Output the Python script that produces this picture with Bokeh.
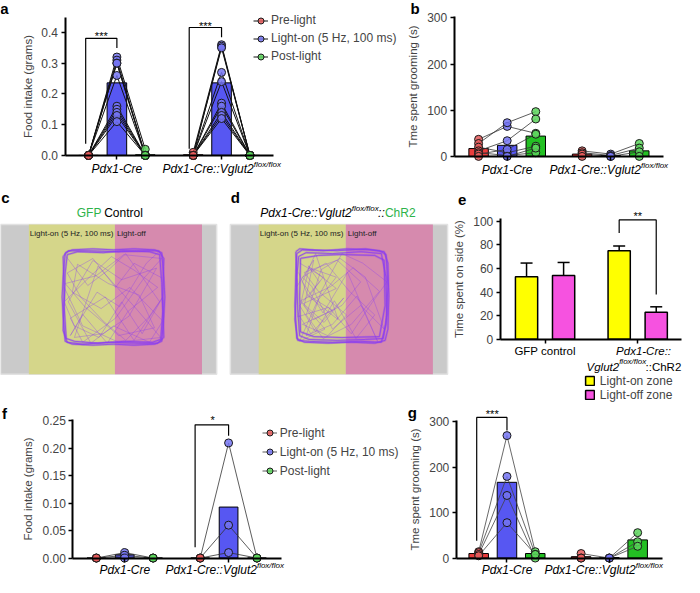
from bokeh.plotting import figure
from bokeh.models import (Range1d, FixedTicker, PrintfTickFormatter, Label, Legend,
                          LegendItem, ColumnDataSource, Whisker, TeeHead,
                          CustomLabelingPolicy)
from bokeh.layouts import row, column
from bokeh.embed import file_html
from bokeh.resources import INLINE

FONT = "Liberation Sans"
SX = 684 / 700
SY = 577 / 593

# ---------------- data ----------------
genotype_labels = ["Pdx1-Cre", "Pdx1-Cre::Vglut2"]
genotype_super = "flox/flox"
legend_a = ["Pre-light", "Light-on (5 Hz, 100 ms)", "Post-light"]
legend_f = ["Pre-light", "Light-on (5 Hz, 10 ms)", "Post-light"]

# a: food intake (grams), 5 Hz 100 ms
a_cre_mean = [0.0, 0.236, 0.002]
a_cre_pre = [0, 0, 0, 0, 0, 0, 0, 0, 0, 0]
a_cre_on = [0.32, 0.31, 0.30, 0.30, 0.26, 0.16, 0.15, 0.14, 0.13, 0.11]
a_cre_post = [0.02, 0, 0, 0, 0, 0, 0, 0, 0, 0]
a_vg_mean = [0.002, 0.236, 0.0]
a_vg_pre = [0.01, 0, 0, 0, 0, 0, 0, 0, 0, 0]
a_vg_on = [0.36, 0.355, 0.35, 0.27, 0.24, 0.17, 0.16, 0.14, 0.13, 0.12]
a_vg_post = [0, 0, 0, 0, 0, 0, 0, 0, 0, 0]

# b: grooming (s), 5 Hz 100 ms
b_cre_mean = [17, 24, 44]
b_cre_pre = [37, 28, 20, 12, 8, 5, 0]
b_cre_on = [65, 73, 8, 34, 2, 15, 0]
b_cre_post = [50, 97, 22, 81, 8, 48, 18]
b_vg_mean = [5, 2, 12]
b_vg_pre = [12, 8, 5, 0]
b_vg_on = [5, 2, 0, 0]
b_vg_post = [28, 18, 10, 0]

# e: time spent on side (%)
e_groups = ["GFP control", "Pdx1-Cre::Vglut2flox/flox::ChR2"]
e_on = [53, 75]
e_on_err = [11.5, 4]
e_off = [54, 23]
e_off_err = [11, 4.5]
e_legend = ["Light-on zone", "Light-off zone"]

# f: food intake (grams), 5 Hz 10 ms
f_cre_mean = [0.0, 0.006, 0.0]
f_cre_pre = [0, 0, 0]
f_cre_on = [0.01, 0.005, 0.0]
f_cre_post = [0, 0, 0]
f_vg_mean = [0.0, 0.093, 0.0]
f_vg_pre = [0, 0, 0]
f_vg_on = [0.21, 0.06, 0.01]
f_vg_post = [0, 0, 0]

# g: grooming (s), 5 Hz 10 ms
g_cre_mean = [10, 167, 10]
g_cre_pre = [14, 12, 8, 5]
g_cre_on = [270, 180, 138, 78]
g_cre_post = [14, 8, 0, 8]
g_vg_mean = [3, 1, 40]
g_vg_pre = [10, 0, 0]
g_vg_on = [0, 0, 0]
g_vg_post = [56, 36, 26]

# significance brackets
a_sig1_x = [-0.1, -0.1, 1, 1]
a_sig1_y = [0.038, 0.381, 0.381, 0.349]
a_sig2_x = [3.55, 3.55, 4.69, 4.69]
a_sig2_y = [0.022, 0.416, 0.416, 0.384]
e_sig_x = [2.5, 2.5, 3.5, 3.5]
e_sig_y = [90, 101, 101, 38]
f_sig_x = [3.48, 3.48, 4.66, 4.66]
f_sig_y = [0.0195, 0.243, 0.243, 0.223]
g_sig_x = [-0.07, -0.07, 1.0, 1.0]
g_sig_y = [38, 310, 310, 281]

# arena zones (image px): gray-left, yellow start, split, pink end, gray end
c_zone_edges = [0, 29, 117, 206, 221]
d_zone_edges = [7, 36, 125, 214, 229]
arena_top_bottom = [35, 189]
c_track_box = [63, 60, 168, 159]
d_track_box = [73, 60, 169, 157]

# mouse tracks (normalised within track box)
c_loop1_u = [0.03, 0.10, 0.30, 0.50, 0.70, 0.90, 0.97, 0.99, 1.00, 0.99, 0.97, 0.90, 0.70, 0.50, 0.30, 0.10, 0.03, 0.01, 0.00, 0.01, 0.03]
c_loop1_v = [0.04, 0.01, 0.00, 0.01, 0.00, 0.01, 0.04, 0.30, 0.50, 0.70, 0.96, 0.99, 1.00, 0.99, 1.00, 0.99, 0.96, 0.70, 0.50, 0.30, 0.04]
c_loop2_u = [0.05, 0.15, 0.40, 0.60, 0.85, 0.95, 0.97, 0.98, 0.96, 0.88, 0.60, 0.35, 0.12, 0.04, 0.02, 0.03, 0.05]
c_loop2_v = [0.06, 0.03, 0.04, 0.02, 0.03, 0.06, 0.35, 0.65, 0.94, 0.97, 0.96, 0.98, 0.96, 0.93, 0.60, 0.25, 0.06]
c_loop3_u = [0.01, 0.06, 0.25, 0.55, 0.80, 0.94, 0.99, 0.98, 0.99, 0.93, 0.75, 0.45, 0.20, 0.05, 0.01, 0.02, 0.01]
c_loop3_v = [0.08, 0.02, 0.02, 0.03, 0.02, 0.02, 0.10, 0.50, 0.92, 0.98, 0.98, 0.97, 0.99, 0.97, 0.85, 0.45, 0.08]
c_path_u = [0.04, 0.25, 0.45, 0.62, 0.95, 0.70, 0.42, 0.08, 0.20, 0.52, 0.80, 0.97, 0.60, 0.33, 0.03, 0.22, 0.55, 0.90, 0.75, 0.45, 0.15, 0.10, 0.38, 0.66, 0.98, 0.85, 0.50, 0.28, 0.06, 0.30, 0.58, 0.92, 0.65, 0.40, 0.12, 0.35, 0.72, 0.96, 0.55, 0.20, 0.02]
c_path_v = [0.08, 0.38, 0.22, 0.05, 0.55, 0.95, 0.50, 0.72, 0.97, 0.72, 0.30, 0.10, 0.06, 0.28, 0.36, 0.60, 0.90, 0.82, 0.48, 0.36, 0.16, 0.45, 0.62, 0.40, 0.75, 0.97, 0.80, 0.98, 0.55, 0.12, 0.32, 0.20, 0.70, 0.88, 0.92, 0.18, 0.62, 0.92, 0.97, 0.80, 0.40]
c_path2_u = [0.97, 0.70, 0.52, 0.30, 0.05, 0.18, 0.40, 0.62, 0.85, 0.98, 0.78, 0.58, 0.36, 0.12, 0.02, 0.26, 0.48, 0.70, 0.93, 0.64, 0.44, 0.20, 0.08, 0.34, 0.56, 0.82, 0.95]
c_path2_v = [0.30, 0.15, 0.40, 0.10, 0.25, 0.50, 0.75, 0.95, 0.70, 0.50, 0.88, 0.55, 0.92, 0.80, 0.55, 0.30, 0.08, 0.22, 0.40, 0.65, 0.98, 0.68, 0.90, 0.45, 0.60, 0.15, 0.02]

d_loop1_u = [0.02, 0.08, 0.30, 0.55, 0.80, 0.95, 0.99, 1.00, 0.99, 0.96, 0.85, 0.60, 0.35, 0.10, 0.02, 0.00, 0.01, 0.02]
d_loop1_v = [0.05, 0.01, 0.02, 0.00, 0.01, 0.03, 0.15, 0.50, 0.85, 0.97, 1.00, 0.99, 1.00, 0.99, 0.95, 0.60, 0.25, 0.05]
d_loop2_u = [0.04, 0.12, 0.40, 0.70, 0.92, 0.97, 0.98, 0.94, 0.75, 0.45, 0.15, 0.05, 0.03, 0.02, 0.04]
d_loop2_v = [0.08, 0.04, 0.05, 0.03, 0.05, 0.30, 0.70, 0.95, 0.96, 0.97, 0.96, 0.92, 0.65, 0.30, 0.08]
d_loop3_u = [0.06, 0.25, 0.50, 0.85, 0.95, 0.96, 0.90, 0.50, 0.20, 0.06, 0.05, 0.06]
d_loop3_v = [0.10, 0.07, 0.06, 0.07, 0.12, 0.60, 0.93, 0.94, 0.93, 0.88, 0.50, 0.10]
d_loop4_u = [0.01, 0.05, 0.20, 0.45, 0.75, 0.90, 0.97, 0.99, 0.97, 0.92, 0.70, 0.40, 0.15, 0.03, 0.00, 0.02, 0.01]
d_loop4_v = [0.03, 0.00, 0.01, 0.02, 0.00, 0.02, 0.06, 0.40, 0.80, 0.99, 0.98, 0.99, 0.98, 0.97, 0.75, 0.35, 0.03]
d_path_u = [0.05, 0.30, 0.15, 0.40, 0.08, 0.35, 0.55, 0.25, 0.10, 0.45, 0.70, 0.50, 0.20, 0.06, 0.38, 0.62, 0.90, 0.60, 0.30, 0.12, 0.28, 0.48, 0.75, 0.95, 0.70, 0.40, 0.18, 0.08, 0.33, 0.58, 0.85, 0.65, 0.42, 0.22, 0.05, 0.26, 0.14, 0.44, 0.09, 0.31, 0.52, 0.17, 0.04]
d_path_v = [0.15, 0.30, 0.50, 0.65, 0.80, 0.92, 0.70, 0.45, 0.25, 0.12, 0.35, 0.60, 0.75, 0.55, 0.40, 0.20, 0.45, 0.80, 0.95, 0.70, 0.22, 0.10, 0.30, 0.85, 0.60, 0.85, 0.40, 0.30, 0.15, 0.45, 0.70, 0.95, 0.55, 0.88, 0.60, 0.35, 0.18, 0.42, 0.58, 0.78, 0.52, 0.90, 0.70]
d_path2_u = [0.02, 0.20, 0.10, 0.32, 0.05, 0.24, 0.44, 0.15, 0.03, 0.36, 0.60, 0.80, 0.98, 0.72, 0.50, 0.28, 0.12, 0.40, 0.66, 0.88, 0.56, 0.30, 0.08, 0.22, 0.46, 0.14, 0.04]
d_path2_v = [0.40, 0.12, 0.60, 0.85, 0.98, 0.55, 0.30, 0.20, 0.72, 0.62, 0.90, 0.60, 0.35, 0.15, 0.05, 0.45, 0.92, 0.80, 0.50, 0.98, 0.25, 0.68, 0.35, 0.05, 0.75, 0.50, 0.25]

# ---------------- styles ----------------
BAR_COLS = ["#ea3d3d", "#5757f2", "#23c023"]
PT_COLS = ["#e55a5a", "#7474f2", "#5ad45a"]
YEL, MAG = "#ffff00", "#f652e0"
Z_GRAY, Z_YEL, Z_PINK = "#cacaca", "#d5d68a", "#d68aae"
TRACK = "#8a3cf2"
GREEN_TXT = "#2db34a"

NO_LABELS = CustomLabelingPolicy(code="return new Set()")


def txt(p, x, y, s, dx=0.0, dy=0.0, size="12px", style="normal", align="center",
        base="middle", color="black"):
    p.add_layout(Label(x=x, y=y, x_offset=dx * SX, y_offset=-dy * SY, text=s,
                       text_font=FONT, text_font_size=size, text_font_style=style,
                       text_align=align, text_baseline=base, text_color=color))


def axes_fig(w, h, box, x0ref, ux, y0ref, uy, yax_ref, xend_ref, ytop, yticks, yfmt,
             ylabel, xticks):
    """Figure whose frame fills the whole box; axes fixed at data positions."""
    fx0, fy0, fx1, fy1 = box
    xr = ((fx0 - x0ref) / ux, (fx1 - x0ref) / ux)
    yr = ((y0ref - fy1) / uy, (y0ref - fy0) / uy)
    xa = (yax_ref - x0ref) / ux
    xb = (xend_ref - x0ref) / ux
    p = figure(width=w, height=h, x_range=Range1d(*xr), y_range=Range1d(*yr),
               min_border=0, output_backend="svg", toolbar_location=None)
    p.outline_line_color = None
    p.xgrid.visible = False
    p.ygrid.visible = False
    for ax in (p.xaxis[0], p.yaxis[0]):
        ax.axis_line_width = 2
        ax.axis_line_color = "black"
        ax.major_tick_line_width = 1.5
        ax.major_tick_out = 4
        ax.major_tick_in = 0
        ax.minor_tick_out = 0
        ax.minor_tick_in = 0
    y = p.yaxis[0]
    y.fixed_location = xa
    y.bounds = (0, ytop)
    y.ticker = FixedTicker(ticks=yticks)
    y.formatter = PrintfTickFormatter(format=yfmt)
    y.major_label_text_font = FONT
    y.major_label_text_font_size = "12px"
    y.major_label_standoff = 3
    y.axis_label = ylabel
    y.axis_label_text_font = FONT
    y.axis_label_text_font_size = "11.5px"
    y.axis_label_text_font_style = "normal"
    y.axis_label_standoff = 5
    x = p.xaxis[0]
    x.fixed_location = 0
    x.bounds = (xa, xb)
    x.ticker = FixedTicker(ticks=xticks)
    x.major_label_policy = NO_LABELS
    return p, xa


def legend_loc(box, left_ref, top_ref, height):
    return ((left_ref - box[0]) * SX, (box[3] - top_ref) * SY - height)


def draw_paired(p, g2_off, groups, bar_w, lw, lcol, pt_alpha=0.85):
    line_r, pts_r = None, []
    for gi, (means, pre, on, post) in enumerate(groups):
        xs = [gi * g2_off + k for k in range(3)]
        p.vbar(x=xs, top=means, width=bar_w, fill_color=BAR_COLS,
               line_color="black", line_width=1)
        lr = p.multi_line(xs=[xs] * len(on), ys=[list(t) for t in zip(pre, on, post)],
                          line_color=lcol, line_width=lw)
        if gi == 0:
            line_r = lr
        for k, vals in enumerate((pre, on, post)):
            sr = p.scatter(x=[xs[k]] * len(vals), y=vals, size=8, marker="circle",
                           fill_color=PT_COLS[k], fill_alpha=pt_alpha,
                           line_color="#1a1a1a", line_width=1)
            if gi == 0:
                pts_r.append(sr)
    return line_r, pts_r


def geno_labels(p, g2_off, dy, super_dx):
    txt(p, 1, 0, genotype_labels[0], dy=dy, style="italic")
    txt(p, g2_off + 1, 0, genotype_labels[1], dx=super_dx, dy=dy, style="italic",
        align="right")
    txt(p, g2_off + 1, 0, genotype_super, dx=super_dx, dy=dy - 5, size="8px",
        style="italic", align="left")


def paired_legend(p, labels, renderers, loc, spacing):
    line_r, pts_r = renderers
    items = [LegendItem(label=lab, renderers=[line_r, sr])
             for lab, sr in zip(labels, pts_r)]
    leg = Legend(items=items, location=loc, orientation="vertical", glyph_width=15,
                 glyph_height=15, label_height=15, spacing=spacing, padding=0,
                 margin=0, label_standoff=3, label_text_font=FONT,
                 label_text_font_size="12px", background_fill_alpha=0,
                 border_line_alpha=0)
    p.add_layout(leg)


def sig(p, xs, ys, stars, sx, sy):
    p.line(x=xs, y=ys, line_color="black", line_width=1.2)
    txt(p, sx, sy, stars, size="11px")


# ---------------- panel a ----------------
G2A = 3.69
BOX_A = (0, 0, 410, 195)
pa, xa_a = axes_fig(401, 190, BOX_A, 90, 29, 159, 142 / 0.45, 66, 279, 0.45,
                    [0, 0.1, 0.2, 0.3, 0.4], "%.1f", "Food intake (grams)",
                    [1, G2A + 1])
rend_a = draw_paired(pa, G2A, [(a_cre_mean, a_cre_pre, a_cre_on, a_cre_post),
                               (a_vg_mean, a_vg_pre, a_vg_on, a_vg_post)],
                     0.69, 1, "#111111")
sig(pa, a_sig1_x, a_sig1_y, "***", 0.45, 0.39)
sig(pa, a_sig2_x, a_sig2_y, "***", 4.12, 0.422)
geno_labels(pa, G2A, 14, 33)
paired_legend(pa, legend_a, rend_a, legend_loc(BOX_A, 259, 13, 51), 3)
txt(pa, xa_a, 0.45, "a", dx=-62, dy=-8.5, size="15px", style="bold")

# ---------------- panel b ----------------
G2B = 3.62
BOX_B = (410, 0, 700, 195)
pb, xa_b = axes_fig(283, 190, BOX_B, 489, 29.3, 160, 144 / 304, 464, 678, 304,
                    [0, 100, 200, 300], "%d", "Tme spent grooming (s)",
                    [1, G2B + 1])
draw_paired(pb, G2B, [(b_cre_mean, b_cre_pre, b_cre_on, b_cre_post),
                      (b_vg_mean, b_vg_pre, b_vg_on, b_vg_post)], 0.68, 0.8, "#333333")
geno_labels(pb, G2B, 14, 31)
txt(pb, xa_b, 304, "b", dx=-40, dy=-8, size="15px", style="bold")


# ---------------- panels c, d ----------------
def arena(w, xmax, edges, track_box, loops, paths, letter, letter_x):
    p = figure(width=w, height=214, x_range=Range1d(0, xmax), y_range=Range1d(220, 0),
               x_axis_type=None, y_axis_type=None, min_border=0,
               output_backend="svg", toolbar_location=None)
    p.outline_line_color = None
    top, bot = arena_top_bottom
    p.quad(left=[edges[0]], right=[edges[4]], top=[top], bottom=[bot],
           fill_color=Z_GRAY, line_color="#e2e2e2", line_width=1.5)
    p.quad(left=[edges[1], edges[2]], right=[edges[2], edges[3]], top=[top, top],
           bottom=[bot, bot], fill_color=[Z_YEL, Z_PINK], line_color=None)
    x0, y0, x1, y1 = track_box

    def tr(u, v):
        return [x0 + a * (x1 - x0) for a in u], [y0 + b * (y1 - y0) for b in v]

    for (u, v) in paths:
        xs, ys = tr(u, v)
        p.line(xs, ys, line_color=TRACK, line_width=0.7, line_alpha=0.5)
    for (u, v) in loops:
        xs, ys = tr(u, v)
        p.line(xs, ys, line_color=TRACK, line_width=2.2, line_alpha=0.35)
        p.line(xs, ys, line_color=TRACK, line_width=0.9, line_alpha=0.8)
    txt(p, edges[1] + 1, 44, "Light-on (5 Hz, 100 ms)", size="8px", align="left",
        color="#222222")
    txt(p, edges[2] + 2, 44, "Light-off", size="8px", align="left", color="#222222")
    txt(p, letter_x, 7, letter, size="15px", style="bold")
    return p


pc = arena(223, 228, c_zone_edges, c_track_box,
           [(c_loop1_u, c_loop1_v), (c_loop2_u, c_loop2_v), (c_loop3_u, c_loop3_v)],
           [(c_path_u, c_path_v), (c_path2_u, c_path2_v)], "c", 5)
txt(pc, 78, 23, "GFP", size="12px", align="left", color=GREEN_TXT)
txt(pc, 106, 23, "Control", size="12px", align="left")

pd = arena(227, 232, d_zone_edges, d_track_box,
           [(d_loop1_u, d_loop1_v), (d_loop2_u, d_loop2_v), (d_loop3_u, d_loop3_v),
            (d_loop4_u, d_loop4_v)],
           [(d_path_u, d_path_v), (d_path2_u, d_path2_v)], "d", 12)
txt(pd, 131, 23, "Pdx1-Cre::Vglut2", size="12px", style="italic", align="right")
txt(pd, 131, 18, genotype_super, size="8px", style="italic", align="left")
txt(pd, 158, 23, "::", size="12px", style="italic", align="left")
txt(pd, 165, 23, "ChR2", size="12px", align="left", color=GREEN_TXT)

# ---------------- panel e ----------------
BOX_E = (460, 195, 700, 415)
pe, xa_e = axes_fig(234, 214, BOX_E, 538, 38, 348, 124 / 102, 511, 697, 102,
                    [0, 20, 40, 60, 80, 100], "%d", "Time spent on side (%)",
                    [0.5, 3.0])
r_on = pe.vbar(x=[0, 2.5], top=e_on, width=0.6, fill_color=YEL, line_color="black",
               line_width=1.5)
r_off = pe.vbar(x=[1, 3.5], top=e_off, width=0.6, fill_color=MAG, line_color="black",
                line_width=1.5)
err_src = ColumnDataSource(dict(
    x=[0, 2.5, 1, 3.5],
    lo=e_on + e_off,
    hi=[m + s for m, s in zip(e_on + e_off, e_on_err + e_off_err)]))
pe.add_layout(Whisker(source=err_src, base="x", lower="lo", upper="hi",
                      dimension="height", line_width=1.5, line_color="black",
                      upper_head=TeeHead(size=12, line_width=1.5, line_color="black"),
                      lower_head=None, level="overlay"))
sig(pe, e_sig_x, e_sig_y, "**", 3.0, 104)
txt(pe, 0.5, 0, "GFP control", dy=12, size="11.5px")
txt(pe, 3.0, 0, "Pdx1-Cre::", dx=6, dy=12, size="11.5px", style="italic")
txt(pe, 3.0, 0, "Vglut2", dx=-19, dy=28, size="11.5px", style="italic", align="right")
txt(pe, 3.0, 0, genotype_super, dx=-19, dy=23, size="8px", style="italic",
    align="left")
txt(pe, 3.0, 0, "::ChR2", dx=8, dy=28, size="11.5px", align="left")
leg_e = Legend(items=[LegendItem(label=e_legend[0], renderers=[r_on]),
                      LegendItem(label=e_legend[1], renderers=[r_off])],
               location=legend_loc(BOX_E, 597, 387, 25), glyph_width=11,
               glyph_height=11, label_height=11, spacing=0, padding=0, margin=0,
               label_standoff=5, label_text_font=FONT, label_text_font_size="12px",
               background_fill_alpha=0, border_line_alpha=0)
pe.add_layout(leg_e)
txt(pe, xa_e, 102, "e", dx=-39, dy=-19, size="15px", style="bold")

# ---------------- panel f ----------------
G2F = 3.66
BOX_F = (0, 415, 415, 593)
pf, xa_f = axes_fig(406, 173, BOX_F, 98, 29, 573, 143 / 0.2535, 74, 287, 0.2535,
                    [0, 0.05, 0.10, 0.15, 0.20, 0.25], "%.2f",
                    "Food intake (grams)", [1, G2F + 1])
rend_f = draw_paired(pf, G2F, [(f_cre_mean, f_cre_pre, f_cre_on, f_cre_post),
                               (f_vg_mean, f_vg_pre, f_vg_on, f_vg_post)],
                     0.66, 0.8, "#333333")
sig(pf, f_sig_x, f_sig_y, "*", 4.1, 0.252)
geno_labels(pf, G2F, 12.5, 29)
paired_legend(pf, legend_f, rend_f, legend_loc(BOX_F, 268, 437, 53), 4)
txt(pf, xa_f, 0.2535, "f", dx=-70, dy=-6, size="15px", style="bold")

# ---------------- panel g ----------------
G2G = 3.62
BOX_G = (415, 415, 700, 593)
pg, xa_g = axes_fig(278, 173, BOX_G, 489, 29, 573, 140 / 300, 466, 677, 304,
                    [0, 100, 200, 300], "%d", "Tme spent grooming (s)",
                    [1, G2G + 1])
draw_paired(pg, G2G, [(g_cre_mean, g_cre_pre, g_cre_on, g_cre_post),
                      (g_vg_mean, g_vg_pre, g_vg_on, g_vg_post)], 0.69, 0.8, "#444444")
sig(pg, g_sig_x, g_sig_y, "***", 0.48, 318)
geno_labels(pg, G2G, 12.5, 27)
txt(pg, xa_g, 304, "g", dx=-45, dy=-8, size="15px", style="bold")

layout = column(row(pa, pb), row(pc, pd, pe), row(pf, pg))
open("out.html", "w").write(file_html(layout, INLINE))
